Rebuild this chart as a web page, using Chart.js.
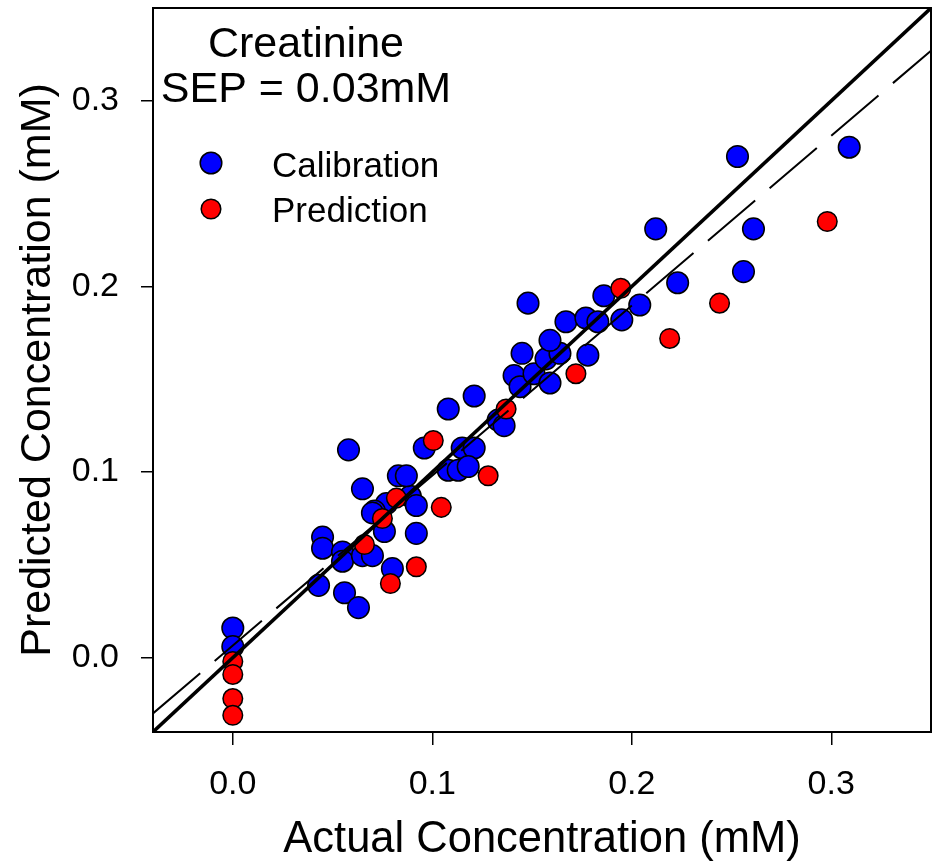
<!DOCTYPE html>
<html><head><meta charset="utf-8">
<script src="https://cdn.jsdelivr.net/npm/chart.js@4.4.1/dist/chart.umd.min.js"></script>
<style>html,body{margin:0;padding:0;background:#fff}</style>
</head><body>
<canvas id="c" width="939" height="864"></canvas>
<script>
// ---- data ----
const calX = [0, 0, 0.043, 0.056, 0.063, 0.045, 0.045, 0.055, 0.055, 0.065, 0.070, 0.080, 0.076, 0.092, 0.077, 0.071, 0.070, 0.089, 0.092, 0.065, 0.083, 0.087, 0.058, 0.096, 0.115, 0.121, 0.108, 0.113, 0.118, 0.108, 0.121, 0.133, 0.136, 0.141, 0.144, 0.151, 0.159, 0.145, 0.157, 0.164, 0.159, 0.178, 0.167, 0.177, 0.183, 0.195, 0.186, 0.204, 0.148, 0.212, 0.223, 0.253, 0.256, 0.261, 0.309];
const calY = [0.016, 0.006, 0.039, 0.035, 0.027, 0.065, 0.059, 0.057, 0.052, 0.055, 0.055, 0.048, 0.068, 0.067, 0.083, 0.079, 0.078, 0.087, 0.082, 0.091, 0.098, 0.098, 0.112, 0.113, 0.113, 0.113, 0.101, 0.101, 0.103, 0.134, 0.141, 0.128, 0.125, 0.152, 0.146, 0.153, 0.148, 0.164, 0.161, 0.164, 0.171, 0.163, 0.181, 0.183, 0.181, 0.182, 0.195, 0.190, 0.191, 0.231, 0.202, 0.270, 0.208, 0.231, 0.275];
const predX = [0, 0, 0, 0, 0.066, 0.075, 0.079, 0.082, 0.092, 0.1005, 0.1045, 0.128, 0.137, 0.172, 0.1945, 0.219, 0.244, 0.298];
const predY = [-0.002, -0.009, -0.022, -0.031, 0.061, 0.075, 0.040, 0.086, 0.049, 0.117, 0.081, 0.098, 0.134, 0.153, 0.199, 0.172, 0.191, 0.235];
const identityX = [-0.04, 0.35];
const identityY = [-0.04, 0.35];
const fitX = [-0.04, 0.35];
const fitY = [-0.030, 0.327];
const xTicks = [0.0, 0.1, 0.2, 0.3];
const yTicks = [0.0, 0.1, 0.2, 0.3];
const titleLines = ['Creatinine', 'SEP = 0.03mM'];
const legendLabels = ['Calibration', 'Prediction'];
const xTitle = 'Actual Concentration (mM)';
const yTitle = 'Predicted Concentration (mM)';

const FONT = '"Liberation Sans", Arial, Helvetica, sans-serif';
Chart.defaults.font.family = FONT;
Chart.defaults.color = '#000';

const zip = (xs, ys) => xs.map((x, i) => ({x, y: ys[i]}));
const noPad = s => { s.paddingTop = 0; s.paddingBottom = 0; s.paddingLeft = 0; s.paddingRight = 0; };

const overlay = {
  id: 'overlay',
  afterDraw(chart) {
    const ctx = chart.ctx, a = chart.chartArea;
    ctx.save();
    ctx.strokeStyle = '#000';
    ctx.lineWidth = 2;
    ctx.strokeRect(a.left, a.top, a.right - a.left, a.bottom - a.top);
    ctx.fillStyle = '#000';
    ctx.textAlign = 'center';
    ctx.textBaseline = 'alphabetic';
    ctx.font = '43px ' + FONT;
    ctx.fillText(titleLines[0], 306, 57);
    ctx.fillText(titleLines[1], 306, 102);
    // legend
    const items = [
      {label: legendLabels[0], color: '#0000FF', r: 10.8, y: 163, base: 177},
      {label: legendLabels[1], color: '#FF0000', r: 9.8, y: 209, base: 222}
    ];
    ctx.font = '35px ' + FONT;
    ctx.textAlign = 'left';
    items.forEach(it => {
      ctx.beginPath();
      ctx.arc(211, it.y, it.r, 0, Math.PI * 2);
      ctx.fillStyle = it.color;
      ctx.fill();
      ctx.lineWidth = 1.5;
      ctx.strokeStyle = '#000';
      ctx.stroke();
      ctx.fillStyle = '#000';
      ctx.fillText(it.label, 272, it.base);
    });
    ctx.restore();
  }
};

new Chart(document.getElementById('c'), {
  type: 'scatter',
  data: {
    datasets: [
      {label: 'identity', type: 'line', data: zip(identityX, identityY), borderColor: '#000', borderWidth: 3.5, pointRadius: 0, fill: false, order: 0},
      {label: 'fit', type: 'line', data: zip(fitX, fitY), borderColor: '#000', borderWidth: 2, borderDash: [62, 19], pointRadius: 0, fill: false, order: 0},
      {label: legendLabels[1], data: zip(predX, predY), backgroundColor: '#FF0000', borderColor: '#000', borderWidth: 1.5, pointRadius: 9.8, order: 1},
      {label: legendLabels[0], data: zip(calX, calY), backgroundColor: '#0000FF', borderColor: '#000', borderWidth: 1.5, pointRadius: 10.8, order: 2}
    ]
  },
  options: {
    responsive: false,
    animation: false,
    devicePixelRatio: 1,
    layout: {autoPadding: false, padding: {left: 0, right: 8, top: 8, bottom: 0}},
    plugins: {legend: {display: false}, tooltip: {enabled: false}},
    scales: {
      x: {
        type: 'linear', min: -0.04, max: 0.35,
        afterBuildTicks: s => { s.ticks = xTicks.map(v => ({value: v})); },
        afterFit: s => { s.height = 132; noPad(s); },
        ticks: {callback: v => v.toFixed(1), font: {size: 34}, padding: 19, color: '#000', maxRotation: 0},
        grid: {drawOnChartArea: false, drawTicks: true, tickLength: 13, color: '#000', lineWidth: 1.5},
        border: {display: true, color: '#000', width: 2},
        title: {display: true, text: xTitle, font: {size: 43.5, lineHeight: 1.1}, color: '#000', padding: {top: 0, bottom: 0}}
      },
      y: {
        type: 'linear', min: -0.04, max: 0.35,
        afterBuildTicks: s => { s.ticks = yTicks.map(v => ({value: v})); },
        afterFit: s => { s.width = 153; noPad(s); },
        ticks: {callback: v => v.toFixed(1), font: {size: 34}, padding: 22, color: '#000'},
        grid: {drawOnChartArea: false, drawTicks: true, tickLength: 12, color: '#000', lineWidth: 1.5},
        border: {display: true, color: '#000', width: 2},
        title: {display: true, text: yTitle, font: {size: 43, lineHeight: 1.1}, color: '#000', padding: {top: 14, bottom: 0}}
      }
    }
  },
  plugins: [overlay]
});
</script>
</body></html>
